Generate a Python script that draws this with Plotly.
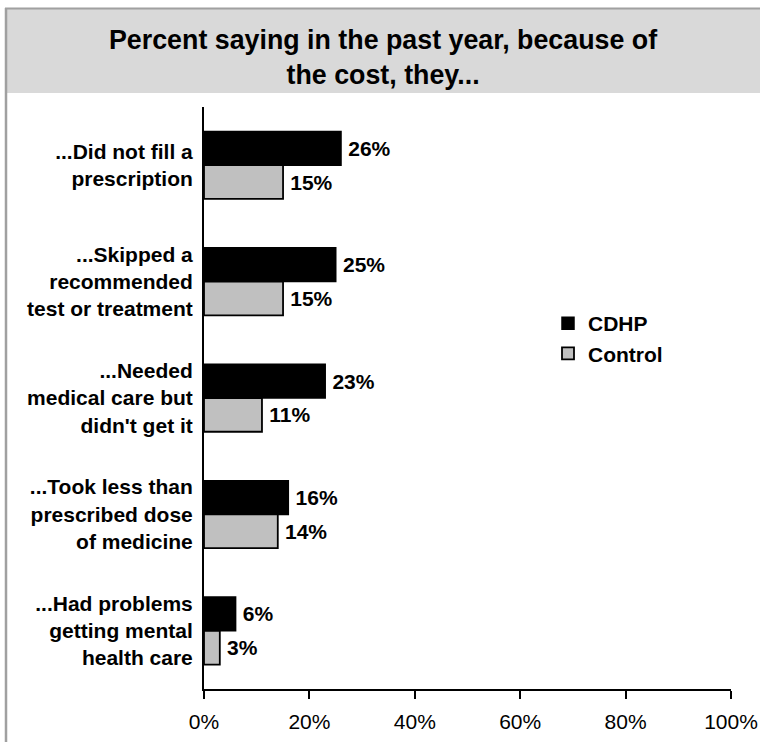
import plotly.graph_objects as go

categories = [
    "...Did not fill a<br>prescription",
    "...Skipped a<br>recommended<br>test or treatment",
    "...Needed<br>medical care but<br>didn't get it",
    "...Took less than<br>prescribed dose<br>of medicine",
    "...Had problems<br>getting mental<br>health care",
]
cdhp = [26, 25, 23, 16, 6]
control = [15, 15, 11, 14, 3]
x_ticks = [0, 20, 40, 60, 80, 100]
x_tick_labels = ["0%", "20%", "40%", "60%", "80%", "100%"]
title_text = "Percent saying in the past year, because of<br>the cost, they..."

W, H = 760, 742
L, R, T, B = 204, 731, 107, 689

def px(x):
    return (x - L) / (R - L)

def py(y):
    return (B - y) / (B - T)

FONT = "Liberation Sans, Arial, sans-serif"
FS = 21

fig = go.Figure()
fig.add_trace(go.Bar(
    y=categories, x=cdhp, name="CDHP", orientation="h",
    marker=dict(color="#000000", line=dict(color="#000000", width=1.5)),
    texttemplate="\u2009%{x}%", textposition="outside",
    textfont=dict(family=FONT, size=FS, color="#000000", weight="bold"),
    cliponaxis=False,
))
fig.add_trace(go.Bar(
    y=categories, x=control, name="Control", orientation="h",
    marker=dict(color="#c0c0c0", line=dict(color="#000000", width=1.8)),
    texttemplate="\u2009%{x}%", textposition="outside",
    textfont=dict(family=FONT, size=FS, color="#000000", weight="bold"),
    cliponaxis=False,
))

shapes = [
    dict(type="rect", xref="paper", yref="paper",
         x0=px(6), x1=px(765), y0=py(9), y1=py(93),
         fillcolor="#d9d9d9", line=dict(width=0), layer="below"),
    dict(type="line", xref="paper", yref="paper",
         x0=px(5), x1=px(765), y0=py(8.5), y1=py(8.5),
         line=dict(color="#a0a0a0", width=2)),
    dict(type="line", xref="paper", yref="paper",
         x0=px(6), x1=px(6), y0=py(8), y1=py(750),
         line=dict(color="#a0a0a0", width=2.5)),
]

fig.update_layout(
    width=W, height=H, autosize=False,
    margin=dict(l=L, r=W - R, t=T, b=H - B, pad=0, autoexpand=False),
    paper_bgcolor="white", plot_bgcolor="white",
    barmode="group", bargap=0.42, bargroupgap=0,
    font=dict(family=FONT, size=FS, color="#000000"),
    showlegend=True,
    legend=dict(
        x=px(548), y=py(303), xanchor="left", yanchor="top",
        font=dict(family=FONT, size=FS, color="#000000", weight="bold"),
        bgcolor="rgba(0,0,0,0)", traceorder="normal",
        itemwidth=30, tracegroupgap=0,
    ),
    shapes=shapes,
    annotations=[dict(
        text="<b>" + title_text + "</b>", xref="paper", yref="paper",
        x=px(383), y=py(57), xanchor="center", yanchor="middle",
        showarrow=False, font=dict(family=FONT, size=26.8, color="#000000"),
    )],
    xaxis=dict(
        range=[0, 100], tickvals=x_ticks, ticktext=x_tick_labels,
        showgrid=False, zeroline=False, showline=True,
        linecolor="#000000", linewidth=2,
        ticks="outside", ticklen=8, tickwidth=2, tickcolor="#000000",
        ticklabelstandoff=5, automargin=False,
        tickfont=dict(family=FONT, size=FS, color="#000000"),
        fixedrange=True,
    ),
    yaxis=dict(
        autorange="reversed", showgrid=False, zeroline=False,
        showline=True, linecolor="#000000", linewidth=2,
        ticks="", ticklabelstandoff=5, automargin=False,
        tickfont=dict(family=FONT, size=FS, color="#000000", weight="bold"),
        fixedrange=True,
    ),
)

fig.write_html(
    "out.html",
    config=dict(responsive=False, displayModeBar=False),
    post_script="document.body.style.margin='0';document.body.style.overflow='hidden';",
)
